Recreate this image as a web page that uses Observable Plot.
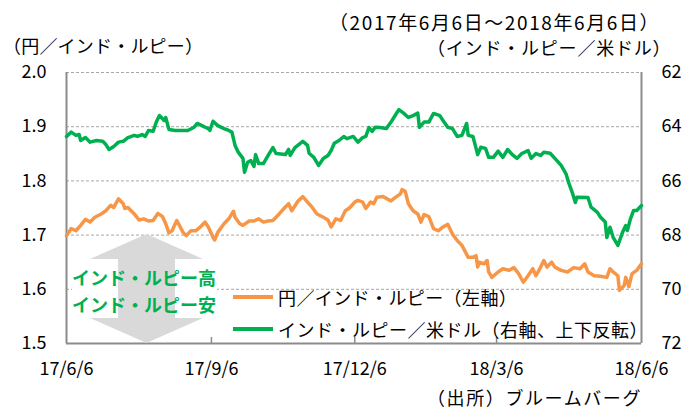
<!DOCTYPE html>
<html><head><meta charset="utf-8">
<script src="https://cdn.jsdelivr.net/npm/d3@7"></script>
<script src="https://cdn.jsdelivr.net/npm/@observablehq/plot@0.6"></script>
<style>
html,body{margin:0;padding:0;background:#fff;}
#wrap{position:relative;width:683px;height:411px;font-family:'Noto Sans CJK JP',sans-serif;}
#overlay{position:absolute;left:0;top:0;pointer-events:none;}
#overlay text{font-family:'Noto Sans CJK JP',sans-serif;dominant-baseline:central;}
</style>
</head><body>
<div id="wrap">
<div id="chart"></div>
<svg id="overlay" width="683" height="411">
  <text x="329" y="21" font-size="19" letter-spacing="1.6">（2017年6月6日～2018年6月6日）</text>
  <text x="427" y="47" font-size="18" letter-spacing="0.8">（インド・ルピー／米ドル）</text>
  <text x="3" y="45" font-size="18" letter-spacing="0.2">（円／インド・ルピー）</text>
  <text x="427" y="397" font-size="18" letter-spacing="1.6">（出所）ブルームバーグ</text>
  <rect x="72" y="263" width="145" height="54" fill="#fff"></rect>
  <polygon points="146.5,234 90,259 118,259 118,318 90,318 146.5,343 203,318 175,318 175,259 203,259" fill="#d9d9d9"></polygon>
  <text x="72" y="277" font-size="18" font-weight="bold" fill="#00B050">インド・ルピー高</text>
  <text x="72" y="304" font-size="18" font-weight="bold" fill="#00B050">インド・ルピー安</text>
  <line x1="233" y1="297" x2="273" y2="297" stroke="#F79646" stroke-width="4"></line>
  <text x="278" y="297" font-size="18" letter-spacing="0.4">円／インド・ルピー（左軸）</text>
  <line x1="233" y1="329" x2="273" y2="329" stroke="#00B050" stroke-width="4"></line>
  <text x="278" y="329" font-size="18" letter-spacing="0.5">インド・ルピー／米ドル（右軸、上下反転）</text>
</svg>
</div>
<script>
// 円／インド・ルピー (left axis)
const orangeDates = ["2017-06-06","2017-06-09","2017-06-12","2017-06-15","2017-06-18","2017-06-21","2017-06-24","2017-06-28","2017-07-01","2017-07-04","2017-07-06","2017-07-09","2017-07-12","2017-07-13","2017-07-15","2017-07-19","2017-07-22","2017-07-25","2017-07-28","2017-07-31","2017-08-03","2017-08-06","2017-08-08","2017-08-10","2017-08-12","2017-08-15","2017-08-19","2017-08-21","2017-08-24","2017-08-27","2017-08-30","2017-09-02","2017-09-04","2017-09-07","2017-09-08","2017-09-10","2017-09-14","2017-09-17","2017-09-20","2017-09-21","2017-09-24","2017-09-26","2017-09-30","2017-10-03","2017-10-06","2017-10-09","2017-10-12","2017-10-15","2017-10-19","2017-10-22","2017-10-25","2017-10-27","2017-10-31","2017-11-03","2017-11-06","2017-11-09","2017-11-12","2017-11-16","2017-11-19","2017-11-21","2017-11-24","2017-11-27","2017-11-30","2017-12-03","2017-12-06","2017-12-08","2017-12-11","2017-12-13","2017-12-16","2017-12-18","2017-12-20","2017-12-24","2017-12-29","2018-01-01","2018-01-04","2018-01-05","2018-01-07","2018-01-09","2018-01-12","2018-01-15","2018-01-17","2018-01-19","2018-01-22","2018-01-25","2018-01-28","2018-01-31","2018-02-03","2018-02-06","2018-02-09","2018-02-12","2018-02-16","2018-02-19","2018-02-21","2018-02-22","2018-02-23","2018-02-26","2018-02-28","2018-03-01","2018-03-03","2018-03-07","2018-03-10","2018-03-14","2018-03-17","2018-03-20","2018-03-23","2018-03-26","2018-03-29","2018-03-31","2018-04-03","2018-04-05","2018-04-07","2018-04-10","2018-04-12","2018-04-16","2018-04-20","2018-04-24","2018-04-28","2018-05-01","2018-05-03","2018-05-07","2018-05-11","2018-05-15","2018-05-17","2018-05-19","2018-05-22","2018-05-23","2018-05-26","2018-05-27","2018-05-29","2018-05-31","2018-06-03","2018-06-06"];
const orangeValues = [1.699,1.712,1.708,1.718,1.729,1.724,1.733,1.739,1.745,1.755,1.751,1.767,1.758,1.749,1.751,1.739,1.728,1.730,1.726,1.727,1.740,1.734,1.721,1.704,1.708,1.727,1.705,1.699,1.708,1.708,1.715,1.724,1.715,1.696,1.691,1.705,1.721,1.730,1.744,1.733,1.721,1.718,1.726,1.726,1.730,1.724,1.726,1.727,1.739,1.749,1.758,1.745,1.763,1.771,1.761,1.751,1.739,1.733,1.728,1.715,1.730,1.727,1.745,1.751,1.761,1.764,1.761,1.749,1.761,1.758,1.770,1.771,1.763,1.770,1.776,1.784,1.781,1.758,1.745,1.739,1.724,1.738,1.734,1.712,1.708,1.715,1.720,1.702,1.690,1.681,1.659,1.659,1.662,1.641,1.650,1.647,1.653,1.632,1.622,1.632,1.638,1.635,1.640,1.629,1.613,1.625,1.638,1.625,1.641,1.653,1.641,1.650,1.641,1.635,1.632,1.640,1.638,1.647,1.632,1.625,1.624,1.622,1.638,1.632,1.625,1.598,1.607,1.622,1.605,1.629,1.635,1.647];

// インド・ルピー／米ドル (right axis, inverted)
const greenDates = ["2017-06-06","2017-06-09","2017-06-12","2017-06-14","2017-06-15","2017-06-18","2017-06-21","2017-06-25","2017-06-29","2017-07-01","2017-07-03","2017-07-06","2017-07-09","2017-07-12","2017-07-15","2017-07-19","2017-07-21","2017-07-24","2017-07-26","2017-07-28","2017-07-31","2017-08-02","2017-08-04","2017-08-07","2017-08-08","2017-08-10","2017-08-14","2017-08-22","2017-08-26","2017-08-28","2017-08-31","2017-09-02","2017-09-04","2017-09-05","2017-09-07","2017-09-10","2017-09-14","2017-09-17","2017-09-19","2017-09-21","2017-09-23","2017-09-26","2017-09-27","2017-09-29","2017-10-01","2017-10-03","2017-10-04","2017-10-06","2017-10-09","2017-10-12","2017-10-15","2017-10-17","2017-10-23","2017-10-25","2017-10-26","2017-10-29","2017-11-03","2017-11-06","2017-11-07","2017-11-10","2017-11-13","2017-11-16","2017-11-19","2017-11-21","2017-11-23","2017-11-26","2017-11-29","2017-12-01","2017-12-05","2017-12-08","2017-12-11","2017-12-13","2017-12-15","2017-12-17","2017-12-19","2017-12-22","2017-12-26","2017-12-29","2018-01-01","2018-01-03","2018-01-06","2018-01-09","2018-01-12","2018-01-15","2018-01-16","2018-01-19","2018-01-22","2018-01-25","2018-01-29","2018-01-31","2018-02-03","2018-02-06","2018-02-09","2018-02-12","2018-02-15","2018-02-16","2018-02-19","2018-02-21","2018-02-22","2018-02-24","2018-02-27","2018-03-01","2018-03-04","2018-03-07","2018-03-10","2018-03-13","2018-03-16","2018-03-19","2018-03-22","2018-03-26","2018-03-28","2018-03-31","2018-04-03","2018-04-05","2018-04-09","2018-04-12","2018-04-16","2018-04-19","2018-04-21","2018-04-23","2018-04-25","2018-04-26","2018-05-03","2018-05-05","2018-05-09","2018-05-11","2018-05-14","2018-05-15","2018-05-17","2018-05-19","2018-05-22","2018-05-25","2018-05-27","2018-05-28","2018-05-30","2018-06-01","2018-06-03","2018-06-06"];
const greenValues = [64.36,64.20,64.32,64.29,64.51,64.40,64.57,64.51,64.54,64.66,64.84,64.73,64.57,64.54,64.40,64.32,64.36,64.29,64.36,64.14,64.17,63.83,63.59,63.77,63.66,64.10,64.14,64.14,64.02,63.88,63.96,64.02,64.07,64.14,63.80,63.96,64.07,64.14,64.20,64.69,64.94,65.17,65.68,65.31,65.25,65.47,65.03,65.36,65.36,65.06,64.77,64.99,65.03,64.84,65.06,64.77,64.54,64.69,64.98,65.13,65.43,65.17,65.06,64.88,64.61,64.51,64.36,64.44,64.36,64.57,64.40,64.36,64.03,64.17,64.02,64.03,64.07,63.83,63.55,63.37,63.50,63.66,63.59,63.50,64.02,63.83,63.83,63.51,63.59,63.77,64.02,64.07,64.36,64.32,63.88,64.32,64.36,64.80,65.03,64.76,64.80,65.13,65.13,64.90,65.13,64.84,65.03,65.17,64.99,64.88,65.17,64.99,65.06,64.94,64.98,65.17,65.43,65.73,66.10,66.42,66.80,66.60,66.61,66.97,67.16,67.34,67.52,68.09,67.71,68.08,68.38,67.89,67.65,67.83,67.40,67.09,67.09,66.91];

const xTickDates = ["2017-06-06","2017-09-06","2017-12-06","2018-03-06","2018-06-06"];
const xTickLabels = ["17/6/6","17/9/6","17/12/6","18/3/6","18/6/6"];
const leftTicks = [1.5,1.6,1.7,1.8,1.9,2.0];
const leftTickLabels = ["1.5","1.6","1.7","1.8","1.9","2.0"];
const rightTicks = [62,64,66,68,70,72];
const rightTickLabels = ["62","64","66","68","70","72"];

const parse = d3.utcParse("%Y-%m-%d");
// right axis 62..72 (inverted) mapped onto left axis 2.0..1.5
const toLeft = v => 2.0 - (v - 62) * 0.05;
const orange = orangeDates.map((d, i) => ({date: parse(d), value: orangeValues[i]}));
const green = greenDates.map((d, i) => ({date: parse(d), value: greenValues[i]}));
const xTicks = xTickDates.map(parse);
const xLabel = new Map(xTicks.map((d, i) => [+d, xTickLabels[i]]));
const rightPos = rightTicks.map(toLeft);
const rightLabel = new Map(rightPos.map((d, i) => [d.toFixed(2), rightTickLabels[i]]));
const leftLabel = new Map(leftTicks.map((d, i) => [d.toFixed(2), leftTickLabels[i]]));

const axisColor = "#8c8c8c";
const chart = Plot.plot({
  width: 683, height: 411,
  marginTop: 72, marginRight: 42, marginBottom: 68, marginLeft: 66,
  style: {fontFamily: "'Noto Sans CJK JP', sans-serif", fontSize: "18px", color: "#000", background: "#fff", overflow: "visible"},
  x: {type: "utc", domain: [xTicks[0], xTicks[xTicks.length - 1]]},
  y: {domain: [1.5, 2.0]},
  marks: [
    Plot.ruleY(leftTicks.slice(1), {stroke: "#a6a6a6", strokeDasharray: "3,2", strokeWidth: 1}),
    Plot.ruleX(xTicks.slice(1, -1), {y1: 1.5, y2: 1.5, insetTop: -6, stroke: axisColor, strokeWidth: 1.5}),
    Plot.ruleX([xTicks[0], xTicks[xTicks.length - 1]], {stroke: axisColor, strokeWidth: 2}),
    Plot.ruleY([1.5], {stroke: axisColor, strokeWidth: 2}),
    Plot.axisY(leftTicks, {anchor: "left", label: null, tickSize: 0, tickPadding: 20, fill: "#000", tickFormat: d => leftLabel.get(d.toFixed(2))}),
    Plot.axisY(rightPos, {anchor: "right", label: null, tickSize: 0, tickPadding: 20, fill: "#000", tickFormat: d => rightLabel.get(d.toFixed(2))}),
    Plot.axisX(xTicks, {anchor: "bottom", label: null, tickSize: 0, tickPadding: 19, fill: "#000", tickFormat: d => xLabel.get(+d)}),
    Plot.line(orange, {x: "date", y: "value", stroke: "#F79646", strokeWidth: 3.5}),
    Plot.line(green, {x: "date", y: d => toLeft(d.value), stroke: "#00B050", strokeWidth: 3.5})
  ]
});
document.getElementById("chart").appendChild(chart);
</script>
</body></html>
